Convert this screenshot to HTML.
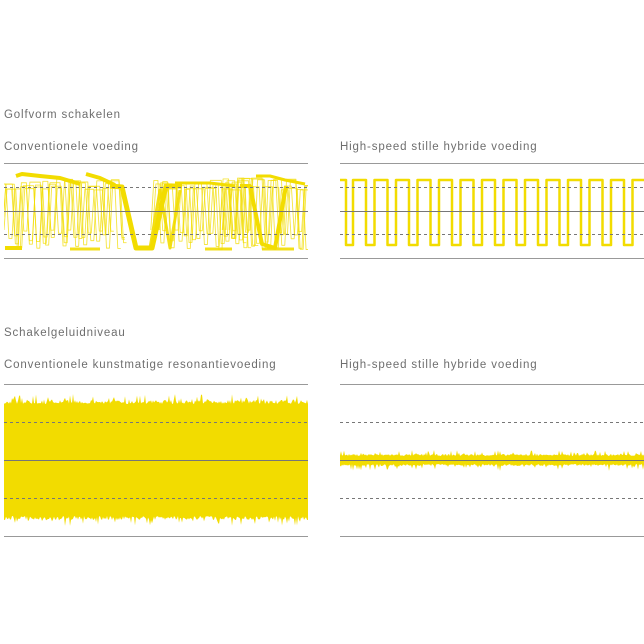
<!DOCTYPE html>
<html><head><meta charset="utf-8"><style>
html,body{margin:0;padding:0;background:#fff;width:644px;height:644px;overflow:hidden}
svg{display:block}
text{font-family:"Liberation Sans",sans-serif;font-size:11.5px;fill:#6e6e6e;letter-spacing:0.85px}
</style></head><body>
<svg id="s" width="644" height="644" viewBox="0 0 644 644" xmlns="http://www.w3.org/2000/svg">
<defs><clipPath id="cl"><rect x="4" y="165" width="304" height="92"/></clipPath></defs>
<text x="4" y="118">Golfvorm schakelen</text>
<text x="4" y="150">Conventionele voeding</text>
<text x="340" y="150">High-speed stille hybride voeding</text>
<text x="4" y="336">Schakelgeluidniveau</text>
<text x="4" y="368">Conventionele kunstmatige resonantievoeding</text>
<text x="340" y="368">High-speed stille hybride voeding</text>
<g id="wave" clip-path="url(#cl)"></g>
<g id="wave2"></g>
<g stroke="#999" stroke-width="1" fill="none">
<line x1="4" y1="163.5" x2="308" y2="163.5"/><line x1="4" y1="258.5" x2="308" y2="258.5"/>
<line x1="340" y1="163.5" x2="644" y2="163.5"/><line x1="340" y1="258.5" x2="644" y2="258.5"/>
<line x1="4" y1="384.5" x2="308" y2="384.5"/><line x1="4" y1="536.5" x2="308" y2="536.5"/>
<line x1="340" y1="384.5" x2="644" y2="384.5"/><line x1="340" y1="536.5" x2="644" y2="536.5"/>
</g>
<g stroke="#777" stroke-width="1" fill="none">
<line x1="4" y1="211.5" x2="308" y2="211.5"/><line x1="340" y1="211.5" x2="644" y2="211.5"/>
<line x1="4" y1="460.5" x2="308" y2="460.5"/><line x1="340" y1="460.5" x2="644" y2="460.5"/>
<g stroke-dasharray="3,3">
<line x1="4" y1="187.5" x2="308" y2="187.5"/><line x1="4" y1="234.5" x2="308" y2="234.5"/>
<line x1="340" y1="187.5" x2="644" y2="187.5"/><line x1="340" y1="234.5" x2="644" y2="234.5"/>
<line x1="4" y1="422.5" x2="308" y2="422.5"/><line x1="4" y1="498.5" x2="308" y2="498.5"/>
<line x1="340" y1="422.5" x2="644" y2="422.5"/><line x1="340" y1="498.5" x2="644" y2="498.5"/>
</g></g>
</svg>
<script>
var g=document.getElementById('wave'),g2=document.getElementById('wave2'),NS='http://www.w3.org/2000/svg';
function P(d,sw,op,fill,gg){var p=document.createElementNS(NS,'path');p.setAttribute('d',d);
if(fill){p.setAttribute('fill','#f2dc00');p.setAttribute('stroke','none');}else{p.setAttribute('fill','none');p.setAttribute('stroke','#f2dc00');p.setAttribute('stroke-width',sw);p.setAttribute('stroke-linejoin','round');}
p.setAttribute('opacity',op);(gg||g).appendChild(p);}
var seed=7;function r(){seed=(seed*16807)%2147483647;return seed/2147483647;}
var d='M340 180 L346 180 L346 245';var x=346;
while(x<644){d+=' L'+(x+7)+' 245 L'+(x+7)+' 180 L'+(x+20)+' 180 L'+(x+20)+' 245';x+=21.5;}
P(d,2.5,1,false,g2);
function fuzz(x0,x1,n){
 for(var k=0;k<n;k++){
  var xx=x0-r()*10,dd='M'+xx+' '+(230);
  while(xx<x1){
   var hi=178+r()*12, lo=230+r()*20, w=6+r()*8;
   dd+=' L'+(xx+3)+' '+hi+' L'+(xx+w)+' '+hi+' L'+(xx+w+3)+' '+lo+' L'+(xx+w+6)+' '+lo;
   xx+=w+6;
  }
  P(dd,0.9,0.75);
 }
}
fuzz(4,110,5);fuzz(160,245,5);fuzz(230,308,5);
P('M16 176 L22 174 L40 176 L60 178 L80 184',4,1);
P('M86 174 L100 178 L115 185',4,1);
P('M175 183 L210 183 L235 186',3,1);
P('M256 176 L270 176 L285 180 L305 184',3,1);
P('M5 248 L22 248',4,1);P('M70 249 L100 249',3,0.9);P('M205 249 L232 249',3,0.9);P('M262 249 L294 249',3,0.9);
P('M110 186 L122 187 L136 248 L152 248 L166 186 L182 186',5,1);
P('M240 186 L250 186 L262 244 L275 248 L286 186',4,1);
P('M150 248 L160 190 L170 248 L180 190',3,0.9);
var pts=[];for(var xi=4;xi<=308;xi+=1){pts.push([xi,400+(r()<0.15?-r()*6:r()*4)]);}
var d2='M4 460';pts.forEach(function(p){d2+=' L'+p[0]+' '+p[1];});
for(var xi=308;xi>=4;xi-=1){d2+=' L'+xi+' '+(520+(r()<0.15?r()*6:-r()*4));}
P(d2+'Z',0,1,true,g2);
var d3='M340 460';for(var xi=340;xi<=644;xi+=1){d3+=' L'+xi+' '+(456-(r()<0.2?r()*6:r()*2));}
for(var xi=644;xi>=340;xi-=1){d3+=' L'+xi+' '+(464+(r()<0.2?r()*7:r()*2));}
P(d3+'Z',0,1,true,g2);
</script>
</body></html>
